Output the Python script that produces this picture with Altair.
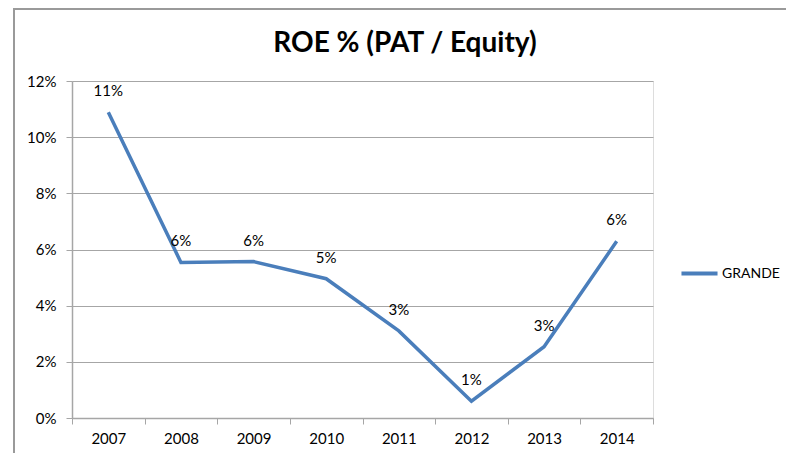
import altair as alt
import pandas as pd

years = ["2007", "2008", "2009", "2010", "2011", "2012", "2013", "2014"]
roe = [0.1089, 0.0554, 0.0557, 0.0496, 0.0310, 0.0060, 0.0254, 0.0629]
series = ["GRANDE"] * len(years)
title_text = "ROE % (PAT / Equity)"

df = pd.DataFrame({"year": years, "roe": roe, "series": series})

FONT = "Lato"
GRID = "#a6a6a6"
LINE = "#4A7EBB"

base = alt.Chart(df)

x = alt.X("year:N", sort=years, title=None,
          scale=alt.Scale(paddingInner=0, paddingOuter=0),
          axis=alt.Axis(labelAngle=0, tickBand="extent", domainColor=GRID,
                        tickColor=GRID, tickSize=6, labelPadding=7,
                        labelFontSize=15, labelColor="#000000", labelFont=FONT,
                        grid=False, domainWidth=1.5))
y = alt.Y("roe:Q", title=None,
          scale=alt.Scale(domain=[0, 0.12], nice=False),
          axis=alt.Axis(format=".0%", values=[0, 0.02, 0.04, 0.06, 0.08, 0.10, 0.12],
                        domainColor=GRID, tickColor=GRID, tickSize=6,
                        gridColor=GRID, gridWidth=1.2, labelPadding=10,
                        labelFontSize=15, labelColor="#000000", labelFont=FONT,
                        domainWidth=1.5))

line = base.mark_line(strokeWidth=3.5, color=LINE).encode(
    x=x, y=y,
    color=alt.Color("series:N", scale=alt.Scale(range=[LINE]), title=None,
                    legend=alt.Legend(orient="none", legendX=607, legendY=172,
                                      symbolType="stroke", symbolSize=1300,
                                      symbolStrokeWidth=4, labelFontSize=14,
                                      labelFont=FONT, labelColor="#000000",
                                      labelOffset=2)),
)

labels = base.mark_text(dy=-21, fontSize=15, font=FONT, color="#000000").encode(
    x=alt.X("year:N", sort=years),
    y="roe:Q",
    text=alt.Text("roe:Q", format=".0%"),
)

title = alt.Chart(pd.DataFrame({"t": [title_text]})).mark_text(
    fontSize=28, font=FONT, fontWeight="bold", color="#000000",
    align="center", baseline="alphabetic"
).encode(x=alt.value(333), y=alt.value(-29), text="t:N")

frame_left = base.mark_rule(color="#9a9a9a", strokeWidth=1.5).encode(
    x=alt.value(-58), y=alt.value(-73), y2=alt.value(380))
frame_top = base.mark_rule(color="#9a9a9a", strokeWidth=1.5).encode(
    x=alt.value(-58), x2=alt.value(720), y=alt.value(-72))

chart = alt.layer(frame_left, frame_top, line, labels, title).properties(
    width=581, height=337,
    autosize=alt.AutoSizeParams(type="none"),
    padding={"left": 64, "top": 73, "right": 133, "bottom": 35},
).configure_view(stroke=None).configure(background="white")

chart.save("out.html", embed_options={"renderer": "svg", "actions": False})
